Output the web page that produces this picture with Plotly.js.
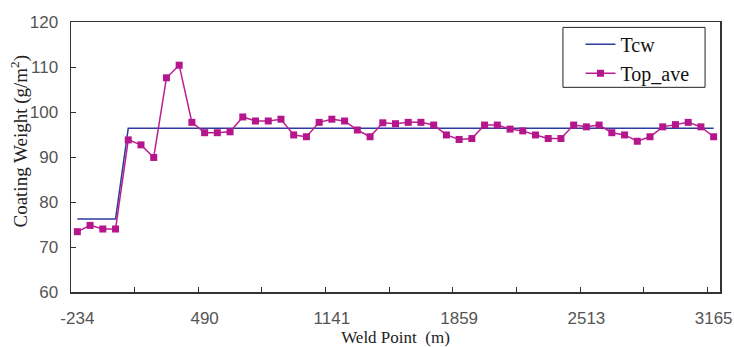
<!DOCTYPE html>
<html>
<head>
<meta charset="utf-8">
<script src="https://cdn.plot.ly/plotly-3.0.1.min.js"></script>
<style>html,body{margin:0;padding:0;background:#fff;}#chart{width:734px;height:347px;}</style>
</head>
<body>
<div id="chart"></div>
<script>
// Weld point index (51 evenly spaced samples along the strip)
const pointIndex = Array.from({length: 51}, (_, i) => i);
// Tick labels shown every 10 samples (weld point in m)
const tickIndex = [0, 10, 20, 30, 40, 50];
const tickLabels = ['-234', '490', '1141', '1859', '2513', '3165'];

// Target coating weight (Tcw)
const tcw = [76.2, 76.2, 76.2, 76.2,
  96.4, 96.4, 96.4, 96.4, 96.4, 96.4, 96.4, 96.4, 96.4, 96.4, 96.4, 96.4, 96.4,
  96.4, 96.4, 96.4, 96.4, 96.4, 96.4, 96.4, 96.4, 96.4, 96.4, 96.4, 96.4, 96.4,
  96.4, 96.4, 96.4, 96.4, 96.4, 96.4, 96.4, 96.4, 96.4, 96.4, 96.4, 96.4, 96.4,
  96.4, 96.4, 96.4, 96.4, 96.4, 96.4, 96.4, 96.4];

// Measured top-side average (Top_ave)
const topAve = [73.4, 74.8, 74.0, 74.0, 93.8, 92.7, 89.9, 107.6, 110.4, 97.7,
  95.4, 95.4, 95.6, 98.9, 98.0, 98.0, 98.4, 94.9, 94.5, 97.7,
  98.4, 98.0, 96.0, 94.5, 97.6, 97.4, 97.7, 97.7, 97.1, 94.9,
  93.9, 94.1, 97.1, 97.1, 96.2, 95.8, 94.9, 94.1, 94.1, 97.1,
  96.7, 97.1, 95.4, 94.9, 93.5, 94.5, 96.7, 97.2, 97.7, 96.7,
  94.5];

const minorTicks = [4.5, 9.5, 14.5, 19.5, 24.5, 29.5, 34.5, 39.5, 44.5, 49.5];

const serif = 'Liberation Serif';
const sans = 'Liberation Sans Narrow, Liberation Sans, Arial, sans-serif';

const traces = [
  {
    x: pointIndex, y: tcw, name: 'Tcw', type: 'scatter', mode: 'lines',
    line: {color: '#2f3a9c', width: 1.5}
  },
  {
    x: pointIndex, y: topAve, name: 'Top_ave', type: 'scatter', mode: 'lines+markers',
    line: {color: '#bb1f8f', width: 1.5},
    marker: {symbol: 'square', size: 7, color: '#b5168c'}
  }
];

const layout = {
  width: 734, height: 347,
  font: {family: serif, size: 17, color: '#222'},
  margin: {l: 71, r: 14, t: 22, b: 55},
  paper_bgcolor: '#fff', plot_bgcolor: '#fff',
  showlegend: true,
  legend: {
    x: 0.785, y: 0.99, xanchor: 'left', yanchor: 'top',
    bgcolor: 'rgba(0,0,0,0)', borderwidth: 0,
    font: {family: serif, size: 20, color: '#111'},
    tracegroupgap: 0
  },
  shapes: [{
    type: 'rect', xref: 'paper', yref: 'paper',
    x0: 0.758, x1: 0.977, y0: 0.758, y1: 0.98,
    line: {color: '#222', width: 1}, fillcolor: '#fff', layer: 'below'
  }],
  xaxis: {
    range: [-0.5, 50.5],
    tickmode: 'array', tickvals: tickIndex, ticktext: tickLabels,
    ticks: '', showgrid: false, zeroline: false,
    showline: true, linecolor: '#333', linewidth: 1.5, mirror: true,
    tickfont: {family: sans, size: 17, color: '#555'},
    ticklabelstandoff: 10,
    minor: {tickmode: 'array', tickvals: minorTicks, ticks: 'inside', ticklen: 5, tickcolor: '#333', tickwidth: 1, showgrid: false},
    title: {text: 'Weld Point  (m)', font: {family: serif, size: 17, color: '#222'}, standoff: 6}
  },
  yaxis: {
    range: [60, 120], tickmode: 'linear', tick0: 60, dtick: 10,
    ticks: 'inside', ticklen: 5, tickcolor: '#333', tickwidth: 1,
    showgrid: false, zeroline: false,
    showline: true, linecolor: '#333', linewidth: 1.5, mirror: true,
    tickfont: {family: sans, size: 17, color: '#555'},
    ticklabelstandoff: 8
  },
  annotations: [{
    text: 'Coating Weight (g/m<sup>2</sup>)',
    xref: 'paper', yref: 'paper', x: -0.079, y: 0.56,
    xanchor: 'center', yanchor: 'middle', textangle: -90, showarrow: false,
    font: {family: serif, size: 19, color: '#222'}
  }]
};

Plotly.newPlot('chart', traces, layout, {displayModeBar: false, staticPlot: true});
</script>
</body>
</html>
